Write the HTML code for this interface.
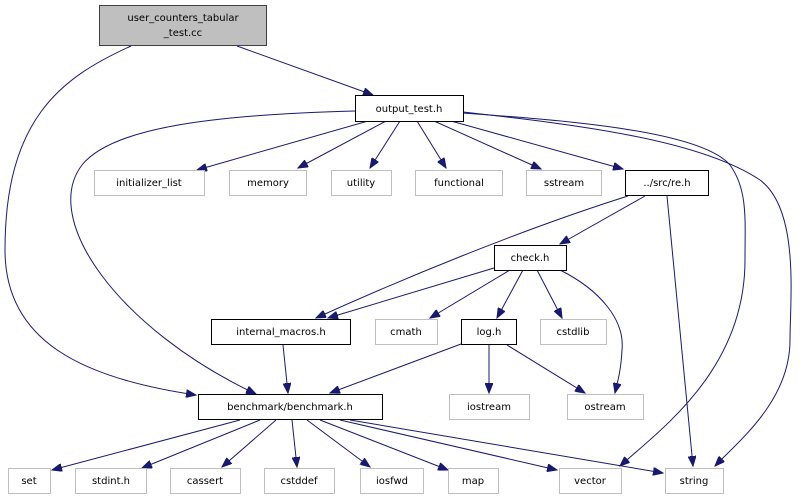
<!DOCTYPE html>
<html><head><meta charset="utf-8"><style>
html,body{margin:0;padding:0;background:#fff;}
svg{display:block;}
text{font-family:"DejaVu Sans","Liberation Sans",sans-serif;font-size:10px;fill:#000;}
</style></head><body>
<svg width="801" height="500" viewBox="0 0 801 500" xmlns="http://www.w3.org/2000/svg">
<defs>
<marker id="a" markerWidth="11" markerHeight="8" refX="10" refY="4" orient="auto" markerUnits="userSpaceOnUse">
<path d="M0,0 L10,4 L0,8 z" fill="#191970" stroke="#191970"/>
</marker>
</defs>
<g fill="none" stroke="#191970" stroke-width="1" marker-end="url(#a)">
<path d="M131,46 C60,78 5,120 5,250 C5,340 80,378 196,395"/>
<path d="M237,46 L373,95"/>
<path d="M355,111 C200,115 110,130 82,165 C40,220 120,330 256,394"/>
<path d="M368,121 L197,170"/>
<path d="M386,121 L298,168"/>
<path d="M400,121 L370,168"/>
<path d="M417,121 L446,168"/>
<path d="M434,121 L541,169"/>
<path d="M451,121 L623,169"/>
<path d="M463,113 C560,120 700,130 730,165 C748,190 745,220 745,260 C745,370 660,430 620,466"/>
<path d="M463,112 C580,125 700,140 760,180 C800,210 790,300 790,340 C790,400 740,440 715,466"/>
<path d="M628,196 C520,230 400,280 316,318"/>
<path d="M645,196 L560,244"/>
<path d="M667,196 L693,466"/>
<path d="M494,268 L328,318"/>
<path d="M510,270 L430,318"/>
<path d="M523,270 L497,318"/>
<path d="M537,270 L562,318"/>
<path d="M560,270 C600,290 625,320 622,350 C621,370 618,380 615,393"/>
<path d="M283,345 L288,393"/>
<path d="M461,344 L330,393"/>
<path d="M489,345 L489,393"/>
<path d="M507,345 L585,393"/>
<path d="M240,420 L52,470"/>
<path d="M260,420 L142,468"/>
<path d="M276,420 L222,467"/>
<path d="M292,420 L297,467"/>
<path d="M307,420 L370,467"/>
<path d="M320,420 L448,470"/>
<path d="M340,420 L557,470"/>
<path d="M350,420 L663,473"/>
</g>
<g stroke-width="1">
<rect x="99.5" y="5.5" width="167" height="40" fill="#bfbfbf" stroke="#404040"/>
<rect x="355.5" y="95.5" width="108" height="26" fill="#fff" stroke="#000"/>
<rect x="94.5" y="170.5" width="110" height="25" fill="#fff" stroke="#bfbfbf"/>
<rect x="229.5" y="170.5" width="77" height="25" fill="#fff" stroke="#bfbfbf"/>
<rect x="331.5" y="170.5" width="60" height="25" fill="#fff" stroke="#bfbfbf"/>
<rect x="415.5" y="170.5" width="87" height="25" fill="#fff" stroke="#bfbfbf"/>
<rect x="526.5" y="170.5" width="75" height="25" fill="#fff" stroke="#bfbfbf"/>
<rect x="625.5" y="170.5" width="83" height="25" fill="#fff" stroke="#000"/>
<rect x="494.5" y="245.5" width="72" height="25" fill="#fff" stroke="#000"/>
<rect x="211.5" y="319.5" width="139" height="25" fill="#fff" stroke="#000"/>
<rect x="375.5" y="319.5" width="62" height="25" fill="#fff" stroke="#bfbfbf"/>
<rect x="461.5" y="319.5" width="55" height="25" fill="#fff" stroke="#000"/>
<rect x="540.5" y="319.5" width="66" height="25" fill="#fff" stroke="#bfbfbf"/>
<rect x="198.5" y="394.5" width="184" height="25" fill="#fff" stroke="#000"/>
<rect x="449.5" y="394.5" width="80" height="25" fill="#fff" stroke="#bfbfbf"/>
<rect x="567.5" y="394.5" width="76" height="25" fill="#fff" stroke="#bfbfbf"/>
<rect x="8.5" y="468.5" width="42" height="25" fill="#fff" stroke="#bfbfbf"/>
<rect x="75.5" y="468.5" width="71" height="25" fill="#fff" stroke="#bfbfbf"/>
<rect x="170.5" y="468.5" width="70" height="25" fill="#fff" stroke="#bfbfbf"/>
<rect x="264.5" y="468.5" width="70" height="25" fill="#fff" stroke="#bfbfbf"/>
<rect x="360.5" y="468.5" width="63" height="25" fill="#fff" stroke="#bfbfbf"/>
<rect x="448.5" y="468.5" width="50" height="25" fill="#fff" stroke="#bfbfbf"/>
<rect x="559.5" y="468.5" width="62" height="25" fill="#fff" stroke="#bfbfbf"/>
<rect x="665.5" y="468.5" width="58" height="25" fill="#fff" stroke="#bfbfbf"/>
</g>
<g text-anchor="middle">
<text x="183" y="21">user_counters_tabular</text>
<text x="183" y="36">_test.cc</text>
<text x="409" y="112">output_test.h</text>
<text x="149" y="186">initializer_list</text>
<text x="268" y="186">memory</text>
<text x="361" y="186">utility</text>
<text x="459" y="186">functional</text>
<text x="564" y="186">sstream</text>
<text x="667" y="186">../src/re.h</text>
<text x="530" y="261">check.h</text>
<text x="281" y="335">internal_macros.h</text>
<text x="406" y="335">cmath</text>
<text x="489" y="335">log.h</text>
<text x="573" y="335">cstdlib</text>
<text x="290" y="410">benchmark/benchmark.h</text>
<text x="489" y="410">iostream</text>
<text x="605" y="410">ostream</text>
<text x="29" y="484">set</text>
<text x="111" y="484">stdint.h</text>
<text x="205" y="484">cassert</text>
<text x="299" y="484">cstddef</text>
<text x="392" y="484">iosfwd</text>
<text x="473" y="484">map</text>
<text x="590" y="484">vector</text>
<text x="694" y="484">string</text>
</g>
</svg>
</body></html>
